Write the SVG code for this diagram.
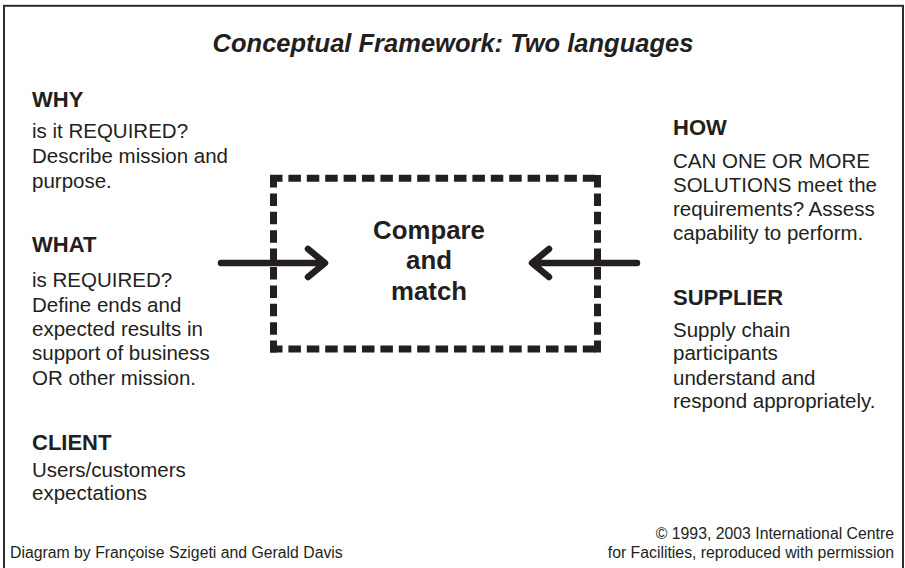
<svg xmlns="http://www.w3.org/2000/svg" width="905" height="568" viewBox="0 0 905 568">
<style>
  text { font-family: "Liberation Sans", Arial, sans-serif; fill: #231f20; }
  .h { font-size: 22px; font-weight: bold; }
  .b { font-size: 20.5px; }
  .title { font-size: 25.5px; font-weight: bold; font-style: italic; }
  .c { font-size: 25.8px; font-weight: bold; text-anchor: middle; }
  .f { font-size: 15.8px; }
  .dash { stroke: #231f20; stroke-width: 7; stroke-dasharray: 12.5 5.9; fill: none; }
  .arr { stroke: #231f20; stroke-width: 6.5; stroke-linecap: round; stroke-linejoin: round; fill: none; }
</style>
<rect x="0" y="0" width="905" height="568" fill="#ffffff"/>
<rect x="4" y="5.8" width="899" height="580" fill="none" stroke="#2e2e2e" stroke-width="2"/>
<text class="title" x="453" y="52" text-anchor="middle">Conceptual Framework: Two languages</text>

<g id="why">
  <text class="h" x="32" y="107">WHY</text>
  <text class="b" x="32" y="138">is it REQUIRED?</text>
  <text class="b" x="32" y="163">Describe mission and</text>
  <text class="b" x="32" y="188">purpose.</text>
</g>
<g id="what">
  <text class="h" x="32" y="252">WHAT</text>
  <text class="b" x="32" y="287">is REQUIRED?</text>
  <text class="b" x="32" y="312">Define ends and</text>
  <text class="b" x="32" y="336">expected results in</text>
  <text class="b" x="32" y="360">support of business</text>
  <text class="b" x="32" y="385">OR other mission.</text>
</g>
<g id="client">
  <text class="h" x="32" y="450">CLIENT</text>
  <text class="b" x="32" y="477">Users/customers</text>
  <text class="b" x="32" y="500">expectations</text>
</g>
<g id="how">
  <text class="h" x="673" y="135">HOW</text>
  <text class="b" x="673" y="168">CAN ONE OR MORE</text>
  <text class="b" x="673" y="192">SOLUTIONS meet the</text>
  <text class="b" x="673" y="216">requirements? Assess</text>
  <text class="b" x="673" y="240">capability to perform.</text>
</g>
<g id="supplier">
  <text class="h" x="673" y="305">SUPPLIER</text>
  <text class="b" x="673" y="337">Supply chain</text>
  <text class="b" x="673" y="360">participants</text>
  <text class="b" x="673" y="385">understand and</text>
  <text class="b" x="673" y="408">respond appropriately.</text>
</g>
<g id="compare">
  <line class="dash" x1="270" y1="178.3" x2="601" y2="178.3"/>
  <line class="dash" x1="270" y1="349" x2="601" y2="349"/>
  <line class="dash" x1="273.5" y1="175" x2="273.5" y2="352.5"/>
  <line class="dash" x1="597.5" y1="175" x2="597.5" y2="352.5"/>
  <text class="c" x="429" y="239">Compare</text>
  <text class="c" x="429" y="269">and</text>
  <text class="c" x="429" y="300">match</text>
</g>
<g id="connectors">
  <path class="arr" d="M221 263 H324 M308 249 L325 263 L308 277"/>
  <path class="arr" d="M637 263 H534 M549 249 L532 263 L549 277"/>
</g>
<g id="footer">
  <text class="f" x="10" y="558">Diagram by Françoise Szigeti and Gerald Davis</text>
  <text class="f" x="894" y="539" text-anchor="end">© 1993, 2003 International Centre</text>
  <text class="f" x="894" y="558" text-anchor="end">for Facilities, reproduced with permission</text>
</g>
</svg>
